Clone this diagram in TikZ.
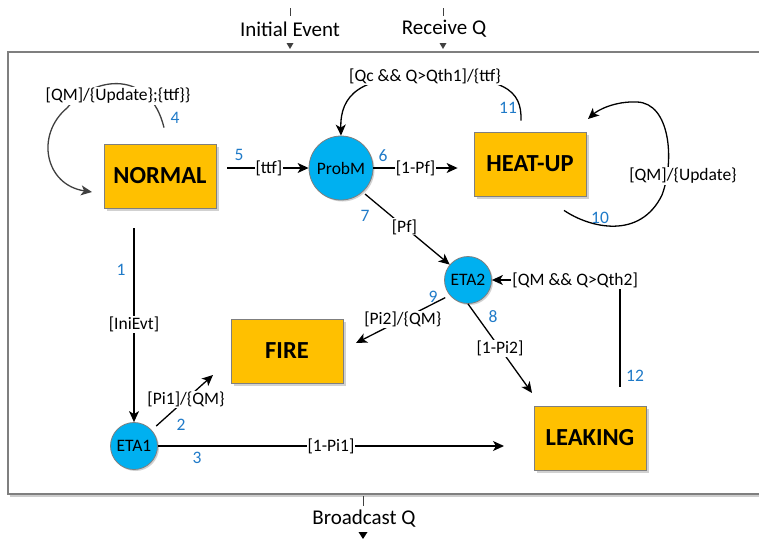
\documentclass[tikz,border=0pt]{standalone}
\usepackage{fontspec}
\setmainfont{Carlito}
\usetikzlibrary{arrows.meta,shadows}
\definecolor{boxorange}{HTML}{FFC000}
\definecolor{circblue}{HTML}{00B0F0}
\definecolor{numblue}{HTML}{1F7AC8}
\definecolor{edgegray}{HTML}{7F7F7F}
\definecolor{loopgray}{HTML}{404040}
\begin{document}
\begin{tikzpicture}[x=1pt,y=-1pt,
  statebox/.style={draw=edgegray, line width=0.8pt, fill=boxorange, minimum width=112pt, minimum height=64pt, inner sep=0pt,
    font=\fontsize{24.5}{28}\selectfont\bfseries, drop shadow={shadow xshift=2.5pt, shadow yshift=-2.5pt, fill=black!18, opacity=1}},
  choice/.style={circle, draw=edgegray, line width=0.8pt, fill=circblue, inner sep=0pt,
    font=\fontsize{17.5}{20}\selectfont, drop shadow={shadow xshift=1.5pt, shadow yshift=-1.5pt, fill=black!18, opacity=1}},
  lbl/.style={fill=white, inner sep=1pt, font=\fontsize{17.5}{20}\selectfont},
  num/.style={text=numblue, inner sep=0pt, font=\fontsize{17.5}{20}\selectfont},
  port/.style={inner sep=0pt, font=\fontsize{21}{24}\selectfont},
  arr/.style={line width=1.3pt, -{Stealth[length=11pt,width=10pt,inset=3pt]}},
  tick/.style={loopgray, line width=1pt}
]
\useasboundingbox (0,0) rectangle (759,538);

% frame
\draw[black!20, line width=1.2pt] (10,496) -- (765,496);
\draw[edgegray, line width=1.2pt] (765,52) -- (8,52) -- (8,494) -- (765,494);

% ports
\node[port] (ie) at (290,29) {Initial Event};
\coordinate (ieTick) at (290,8);
\draw[tick] (ieTick) -- ++(0,8);
\fill[loopgray] (286.5,43) -- (293.5,43) -- (290,49) -- cycle;

\node[port] (rq) at (444,29) {Receive Q};
\coordinate (rqTick) at (443,8);
\draw[tick] (rqTick) -- ++(0,8);
\fill[loopgray] (439.5,43) -- (446.5,43) -- (443,49) -- cycle;

\node[port] (bq) at (364,519) {Broadcast Q};
\coordinate (bqTick) at (363,496);
\draw[tick] (bqTick) -- ++(0,10);
\fill[black] (358.5,532) -- (367.5,532) -- (363,539) -- cycle;

% states
\node[statebox] (normal) at (160,176) {NORMAL};
\node[statebox] (heatup) at (530,164) {HEAT-UP};
\node[statebox] (fire) at (287,351) {FIRE};
\node[statebox] (leaking) at (590,438) {LEAKING};
\node[choice, minimum size=64pt] (probm) at (341,168) {ProbM};
\node[choice, minimum size=47pt] (eta1) at (134,446) {ETA1};
\node[choice, minimum size=47pt] (eta2) at (468,280) {ETA2};

% free ends
\coordinate (t2) at (213,375);
\coordinate (t3) at (504,446);
\coordinate (t8) at (532,393);
\coordinate (t9) at (356,343);
\coordinate (c12) at (620,280);
\coordinate (l4end) at (92,192);
\coordinate (l10end) at (588,119);

% straight transitions
\draw[arr, shorten <=20pt] (normal.south -| eta1.north) -- node[lbl, pos=0.544] {[IniEvt]} (eta1.north);
\draw[arr, shorten <=6pt] (eta1) -- node[lbl, pos=0.56] {[Pi1]/\{QM\}} (t2);
\draw[arr] (eta1) -- node[lbl, pos=0.5] {[1-Pi1]} (t3);
\draw[arr, shorten <=11pt] (normal.east |- probm) -- node[lbl, pos=0.57] {[ttf]} (probm);
\draw[arr, shorten >=16pt] (probm) -- node[lbl, pos=0.42] {[1-Pf]} (probm -| heatup.west);
\draw[arr, shorten <=3pt] (probm.-48) -- node[lbl, pos=0.48] {[Pf]} (eta2.140);
\draw[arr] (eta2.south) -- node[lbl, pos=0.5] {[1-Pi2]} (t8);
\draw[arr, shorten <=5pt] (eta2.220) -- node[lbl, pos=0.5] {[Pi2]/\{QM\}} (t9);
\draw[arr, shorten <=19pt] ([xshift=30pt]leaking.north) -- (c12) -- node[lbl, pos=0.35] {[QM \&\& Q>Qth2]} (eta2);

% curved transitions
\draw[arr, loopgray] ([xshift=4pt,yshift=16pt]normal.north) .. controls (150,70) and (95,75) .. (67,108)
  .. controls (35,135) and (45,185) .. (l4end);
\node[lbl] (lab4) at (118,96) {[QM]/\{Update\};\{ttf\}\}};

\draw[arr] ([xshift=34pt,yshift=-14pt]heatup.south) .. controls (590,228) and (640,240) .. (662,195)
  .. controls (675,160) and (670,103) .. (637,102) .. controls (615,101) and (598,110) .. (l10end);
\node[lbl] (lab10) at (683,176) {[QM]/\{Update\}};

\draw[arr] ([xshift=-9pt,yshift=11pt]heatup.north) .. controls (522,90) and (505,76) .. (425,76)
  .. controls (360,76) and (340,95) .. (probm.north);
\node[lbl] (lab11) at (425,76) {[Qc \&\& Q>Qth1]/\{ttf\}};

% numbers
\node[num] (n1) at (121,270) {1};
\node[num] (n2) at (181,425) {2};
\node[num] (n3) at (197,458) {3};
\node[num] (n4) at (175,118) {4};
\node[num] (n5) at (239,155) {5};
\node[num] (n6) at (383,156) {6};
\node[num] (n7) at (365,216) {7};
\node[num] (n8) at (493,317) {8};
\node[num] (n9) at (433,297) {9};
\node[num] (n10) at (600,218) {10};
\node[num] (n11) at (508,108) {11};
\node[num] (n12) at (635,376) {12};
\end{tikzpicture}
\end{document}
